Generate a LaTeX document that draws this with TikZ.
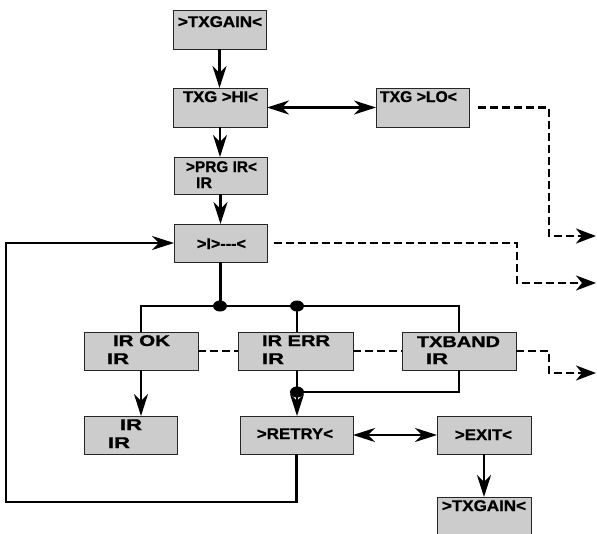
\documentclass[tikz,border=0pt]{standalone}
\usepackage{fontspec}
\usepackage{graphicx}
\newfontfamily\boxfont{Liberation Sans}[BoldFeatures={FakeBold=1}]
\usetikzlibrary{arrows.meta,shapes.geometric}
\definecolor{boxgray}{HTML}{CCCCCC}
\newcommand\fitw[2]{\resizebox{#1pt}{\height}{#2}}
\tikzset{
  box/.style={rectangle, draw=black!85, fill=boxgray, line width=1pt, inner sep=0pt, outer sep=0pt},
  txt/.style={anchor=base west, inner sep=0pt, outer sep=0pt, font=\boxfont\bfseries\fontsize{15.5}{15.5}\selectfont},
  conn/.style={line width=2.3pt, draw=black},
  arr/.style={conn, -{Stealth[length=22pt,width=14pt,inset=7pt]}},
  darr/.style={conn, {Stealth[length=22pt,width=14pt,inset=7pt]}-{Stealth[length=22pt,width=14pt,inset=7pt]}},
  dline/.style={line width=2.5pt, draw=black, dash pattern=on 8pt off 4pt},
  darrow/.style={dline, -{Stealth[length=20pt,width=15pt,inset=6pt]}},
  junction/.style={ellipse, fill=black, draw=none, minimum width=14pt, minimum height=11pt, inner sep=0pt}
}
\begin{document}
\begin{tikzpicture}[x=1pt,y=-1pt]
\useasboundingbox (0,0) rectangle (597,533);

% boxes
\node[box, minimum width=93pt, minimum height=39pt] (g1) at (219.5,29.5) {};
\node[box, minimum width=94pt, minimum height=39pt] (hi) at (220,107.5) {};
\node[box, minimum width=93pt, minimum height=39pt] (lo) at (422.5,107.5) {};
\node[box, minimum width=93pt, minimum height=37pt] (prg) at (220.5,175.5) {};
\node[box, minimum width=93pt, minimum height=38pt] (idle) at (220.5,243) {};
\node[box, minimum width=114pt, minimum height=38pt] (ok) at (141,351) {};
\node[box, minimum width=115pt, minimum height=38pt] (err) at (295.5,351) {};
\node[box, minimum width=114pt, minimum height=38pt] (band) at (459,351) {};
\node[box, minimum width=93pt, minimum height=38pt] (irir) at (130.5,435) {};
\node[box, minimum width=113pt, minimum height=38pt] (retry) at (296.5,435) {};
\node[box, minimum width=94pt, minimum height=38pt] (exit) at (484,435) {};
\node[box, minimum width=94pt, minimum height=39pt] (g2) at (484,516.5) {};

% texts
\node[txt] (g1t) at (178,27) {\fitw{84}{>TXGAIN<}};
\node[txt] (hit) at (183,102) {\fitw{75}{TXG >HI<}};
\node[txt] (lot) at (380,102) {\fitw{77}{TXG >LO<}};
\node[txt] (prgta) at (186,172) {\fitw{71}{>PRG IR<}};
\node[txt] (prgtb) at (196,188) {\fitw{16}{IR}};
\node[txt] (idlet) at (197,249) {\fitw{49}{>I>-{}-{}-<}};
\node[txt] (okta) at (113,346) {\fitw{57}{IR OK}};
\node[txt] (oktb) at (107,364) {\fitw{22}{IR}};
\node[txt] (errta) at (262,346) {\fitw{68}{IR ERR}};
\node[txt] (errtb) at (262,364) {\fitw{22}{IR}};
\node[txt] (bandta) at (417,347) {\fitw{83}{TXBAND}};
\node[txt] (bandtb) at (426,364) {\fitw{22}{IR}};
\node[txt] (irirta) at (120,430) {\fitw{22}{IR}};
\node[txt] (irirtb) at (108,448) {\fitw{22}{IR}};
\node[txt] (retryt) at (257,439) {\fitw{76}{>RETRY<}};
\node[txt] (exitt) at (455,440) {\fitw{57}{>EXIT<}};
\node[txt] (g2t) at (442,511) {\fitw{84}{>TXGAIN<}};

% junctions and free ends
\coordinate (j1) at (220,306);
\coordinate (j2) at (297,306);
\coordinate (j3) at (297,392);
\coordinate (loopB) at (6,502);
\coordinate (e1) at (596,236);
\coordinate (e2) at (596,283);
\coordinate (e3) at (596,373);

% solid connectors
\draw[arr] (g1.south) -- (g1.south |- hi.north);
\draw[darr] (hi.east) -- (lo.west);
\draw[arr] (hi.south) -- (hi.south |- prg.north);
\draw[arr] (prg.south) -- (prg.south |- idle.north);
\draw[conn] (idle.south) -- (idle.south |- j1);
\draw[conn] (ok.north) -- (ok.north |- j1) -- (band.north |- j1) -- (band.north);
\draw[conn] (j2) -- (j2 |- err.north);
\draw[arr] (ok.south) -- (ok.south |- irir.north);
\draw[conn] (j3 |- err.south) -- (j3);
\draw[conn] (band.south) -- (band.south |- j3) -- (j3);
\draw[arr] (j3) -- (j3 |- retry.north);
\draw[darr] (retry.east) -- (exit.west);
\draw[arr] (exit.south) -- (exit.south |- g2.north);
\draw[arr] (retry.south) -- (retry.south |- loopB) -- (loopB) -- (loopB |- idle.west) -- (idle.west);

\node[junction] (dot1) at (j1) {};
\node[junction] (dot2) at (j2) {};
\node[junction] (dot3) at (j3) {};

% dashed connectors
\draw[dline] (ok.east) -- (err.west);
\draw[dline] (err.east) -- (band.west);
\draw[darrow] (band.east) -- ++(33,0) |- (e3);
\draw[darrow] ([xshift=9pt]lo.east) -- ++(71,0) |- (e1);
\draw[darrow] ([xshift=7pt]idle.east) -- ++(243,0) |- (e2);
\end{tikzpicture}
\end{document}
